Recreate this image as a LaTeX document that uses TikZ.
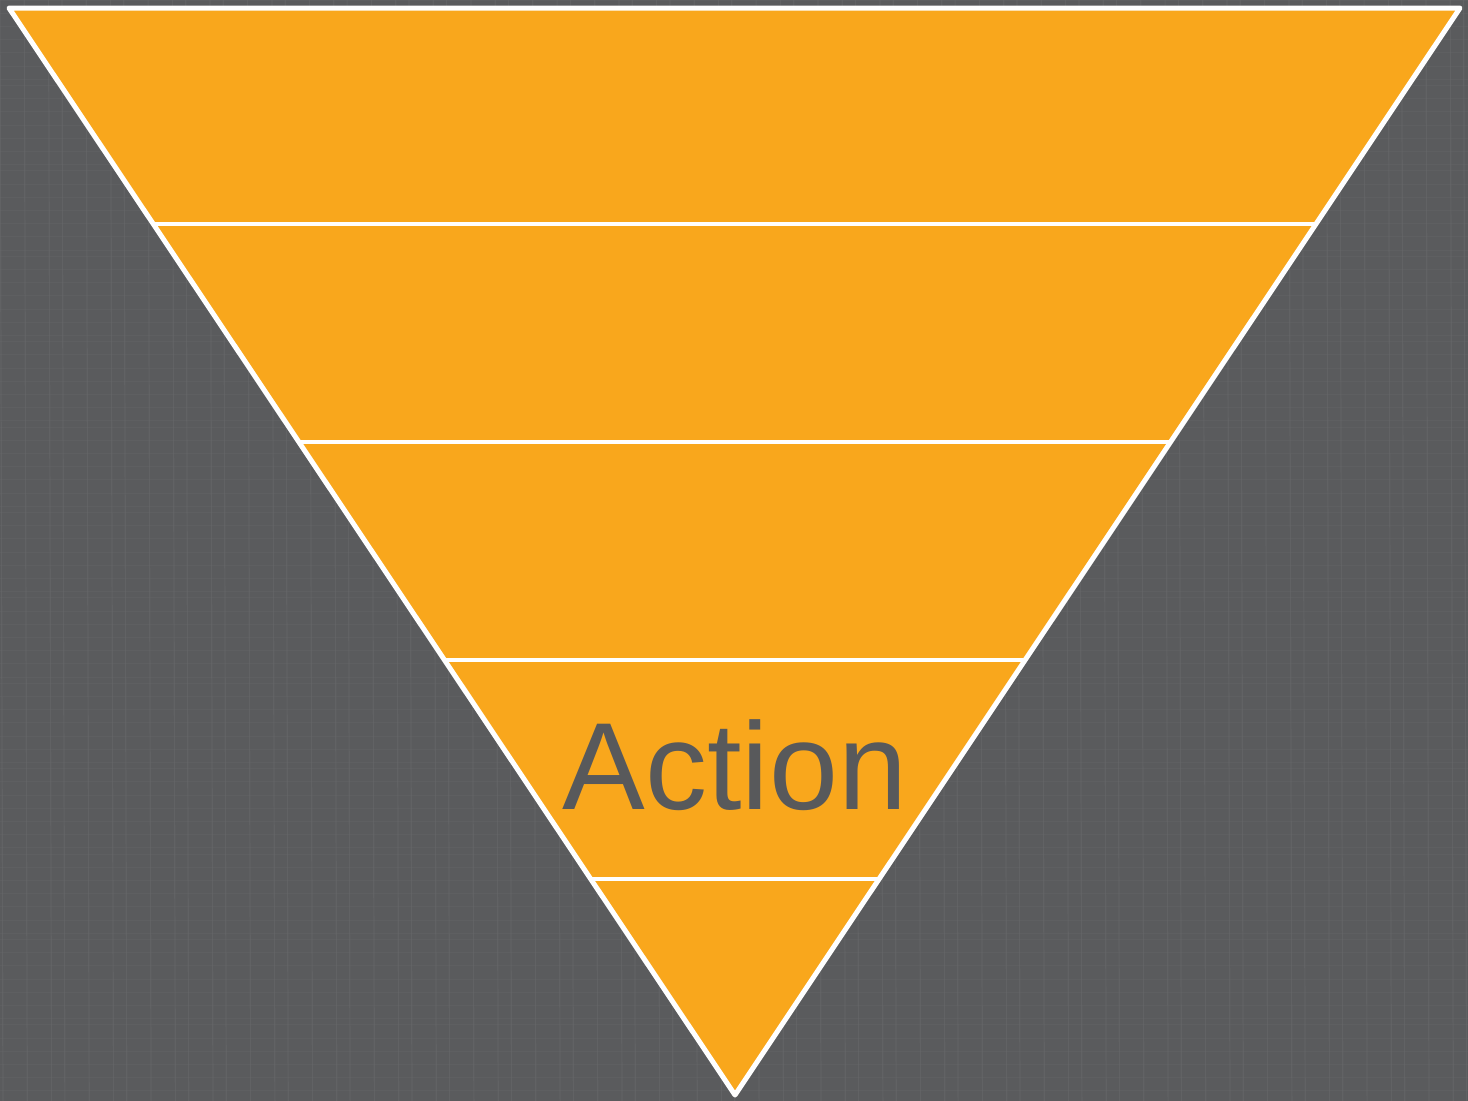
\documentclass[tikz,border=0pt]{standalone}
\usepackage{fontspec}
\setmainfont{Liberation Sans}
\usetikzlibrary{calc}
\definecolor{bgray}{HTML}{5A5B5D}
\definecolor{bline}{HTML}{67686A}
\definecolor{forange}{HTML}{F9A71C}
\definecolor{tgray}{HTML}{58595B}
\tikzset{
  bandline/.style={draw=white, line width=4.5pt},
  funnel/.style={fill=forange, draw=white, line width=5pt, line join=round},
  label/.style={text=tgray, font=\fontsize{124}{124}\selectfont, inner sep=0pt, anchor=base}
}
\begin{document}
\begin{tikzpicture}[x=1pt,y=-1pt]
\useasboundingbox (0,0) rectangle (1468,1101);
\fill[bgray] (0,0) rectangle (1468,1101);
% faint texture
\foreach \i in {0,...,72} {
  \pgfmathsetmacro{\xx}{\i*20.3+mod(\i*37,11)}
  \draw[bline, line width=1.2pt, opacity=0.55] (\xx,0) -- (\xx+3,1101);
}
\foreach \j in {0,...,90} {
  \pgfmathsetmacro{\yy}{\j*12.2+mod(\j*29,7)}
  \draw[bline, line width=0.8pt, opacity=0.35] (0,\yy) -- (1468,\yy);
}
% funnel
\coordinate (tl) at (9,8);
\coordinate (tr) at (1460,8);
\coordinate (tip) at (735,1095);
\path[funnel] (tl) -- (tr) -- (tip) -- cycle;
\foreach \y/\n in {224/a,442/b,660/c,879/d} {
  \coordinate (l\n) at ($(tl)!{(\y-8)/1087}!(tip)$);
  \coordinate (r\n) at ($(tr)!{(\y-8)/1087}!(tip)$);
  \draw[bandline] (l\n) -- (r\n);
}
\node[label] (action) at (735,809) {Action};
\end{tikzpicture}
\end{document}
